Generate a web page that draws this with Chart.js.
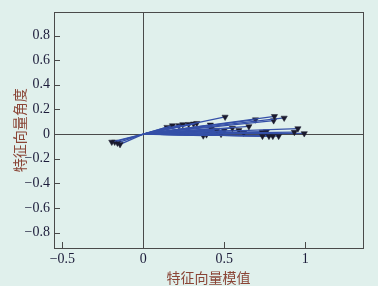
<!DOCTYPE html>
<html>
<head>
<meta charset="utf-8">
<script src="https://cdn.jsdelivr.net/npm/chart.js@4.4.1/dist/chart.umd.min.js"></script>
<style>
    html, body { margin: 0; padding: 0; background: #e0f0ec; }
    #box { width: 378px; height: 286px; }
</style>
</head>
<body>
<div id="box"><canvas id="vecChart"></canvas></div>
<script>
// extremos de los vectores (modulo, angulo)
const vecX = [0.505, 0.81, 0.87, 0.805, 0.693, 0.652, 0.955, 0.933, 0.994, 0.734,
    0.736, 0.776, 0.80, 0.836, 0.55, 0.59, 0.414, 0.33, 0.31, 0.244,
    0.18, 0.146, 0.39, 0.37, 0.454, 0.5, -0.195, -0.177, -0.16, -0.144,
    0.22, 0.28, 0.42, 0.76, 0.62, 0.48];
const vecY = [0.139, 0.144, 0.131, 0.11, 0.117, 0.062, 0.045, 0.016, 0.005, 0.016,
    -0.016, -0.016, -0.016, -0.016, 0.048, 0.03, 0.075, 0.088, 0.083, 0.078,
    0.069, 0.056, -0.004, -0.013, 0.033, 0.03, -0.064, -0.064, -0.072, -0.083,
    0.07, 0.08, 0.045, 0.02, 0.01, 0.0];
const xTicks = [-0.5, 0, 0.5, 1];
const yTicks = [-0.8, -0.6, -0.4, -0.2, 0, 0.2, 0.4, 0.6, 0.8];
const xTitle = "特征向量模值";
const yTitle = "特征向量角度";

const lineaAzul = "#3550a8";
const marcador = "#1a1a2e";
const fuenteTicks = { family: "'Liberation Serif', serif", size: 14 };

function fmt(v) {
    const s = String(Math.abs(v));
    return v < 0 ? "\u2212" + s : s;
}

// un dataset por vector: origen -> extremo
const datasets = vecX.map((x, i) => ({
    data: [{ x: 0, y: 0 }, { x: x, y: vecY[i] }],
    borderColor: lineaAzul,
    borderWidth: 1.3,
    pointStyle: "triangle",
    rotation: 180,
    pointRadius: [0, 3.6],
    pointBackgroundColor: marcador,
    pointBorderColor: marcador,
    pointBorderWidth: 0.5,
    showLine: true,
}));

// ticks hacia dentro
const ticksDentro = {
    id: "ticksDentro",
    afterDatasetsDraw(chart) {
        const ctx = chart.ctx;
        const area = chart.chartArea;
        const xs = chart.scales.x;
        const ys = chart.scales.y;
        ctx.save();
        ctx.strokeStyle = "#4a4a4a";
        ctx.lineWidth = 1;
        ctx.beginPath();
        yTicks.forEach((v) => {
            const py = Math.round(ys.getPixelForValue(v)) + 0.5;
            ctx.moveTo(area.left, py);
            ctx.lineTo(area.left + 6, py);
        });
        xTicks.forEach((v) => {
            const px = Math.round(xs.getPixelForValue(v)) + 0.5;
            ctx.moveTo(px, area.bottom);
            ctx.lineTo(px, area.bottom - 6);
        });
        ctx.stroke();
        ctx.restore();
    },
};

const ctx = document.getElementById("vecChart").getContext("2d");
new Chart(ctx, {
    type: "scatter",
    data: { datasets: datasets },
    options: {
        responsive: true,
        maintainAspectRatio: false,
        animation: false,
        layout: { padding: { top: 10, right: 15, left: 11, bottom: 0 } },
        plugins: { legend: { display: false }, tooltip: { enabled: false } },
        scales: {
            x: {
                type: "linear",
                min: -0.552,
                max: 1.357,
                afterBuildTicks: (s) => { s.ticks = xTicks.map((v) => ({ value: v })); },
                afterFit: (s) => { s.height = 38; },
                border: { display: true, color: "#4a4a4a", width: 1 },
                grid: {
                    drawTicks: false,
                    color: (c) => (c.tick && c.tick.value === 0 ? "#4a4a4a" : "rgba(0,0,0,0)"),
                },
                ticks: { color: "#1c1c3a", font: fuenteTicks, padding: 3, maxRotation: 0, callback: (v) => fmt(v) },
                title: {
                    display: true,
                    text: xTitle,
                    color: "#8a4536",
                    font: { family: "'Noto Sans CJK SC', sans-serif", size: 14 },
                    padding: { top: 7, bottom: 0 },
                },
            },
            y: {
                type: "linear",
                min: -0.925,
                max: 0.988,
                afterBuildTicks: (s) => { s.ticks = yTicks.map((v) => ({ value: v })); },
                afterFit: (s) => { s.width = 43; },
                border: { display: true, color: "#4a4a4a", width: 1 },
                grid: {
                    drawTicks: false,
                    color: (c) => (c.tick && c.tick.value === 0 ? "#4a4a4a" : "rgba(0,0,0,0)"),
                },
                ticks: { color: "#1c1c3a", font: fuenteTicks, padding: 4, callback: (v) => fmt(v) },
                title: {
                    display: true,
                    text: yTitle,
                    color: "#8a4536",
                    font: { family: "'Noto Sans CJK SC', sans-serif", size: 14 },
                    padding: { top: 0, bottom: 0 },
                },
            },
        },
    },
    plugins: [
        ticksDentro,
        {
            id: "marco",
            afterDraw(chart) {
                const a = chart.chartArea;
                const c = chart.ctx;
                c.save();
                c.strokeStyle = "#4a4a4a";
                c.lineWidth = 1;
                c.strokeRect(Math.round(a.left) + 0.5, Math.round(a.top) + 0.5,
                    Math.round(a.right - a.left), Math.round(a.bottom - a.top));
                c.restore();
            },
        },
    ],
});
</script>
</body>
</html>
